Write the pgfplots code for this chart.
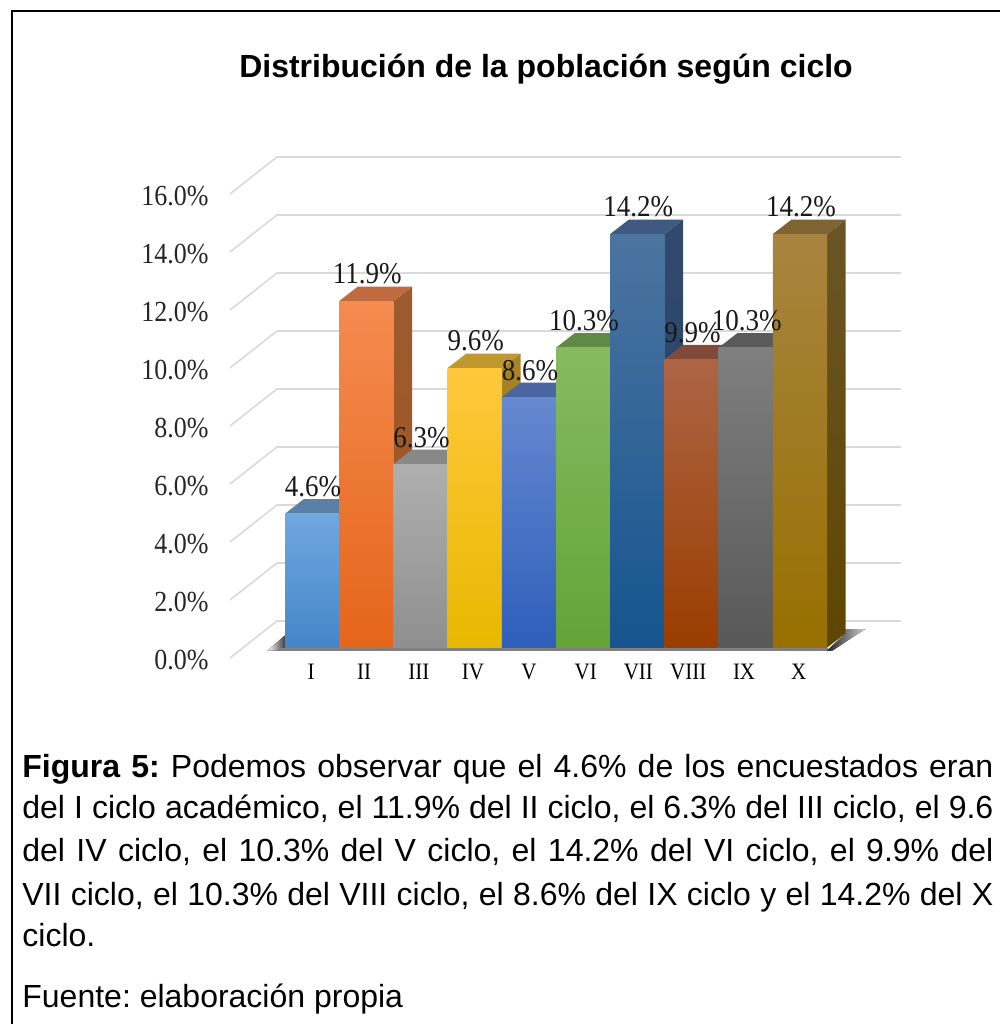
\documentclass[border=0pt]{standalone}
\usepackage{graphicx}
\usepackage{pgfplots}
\pgfplotsset{compat=1.18}
\usepackage{fontspec}
\setmainfont{Liberation Sans}
\newfontfamily\timesf{Liberation Serif}
\newcommand{\tall}[1]{\scalebox{1}[1.12]{#1}}
% 1 px of the reference = 0.5pt
\newcommand{\barcolors}[6]{%
  \definecolor{sideT#1}{HTML}{#2}\definecolor{sideB#1}{HTML}{#3}%
  \definecolor{topF#1}{HTML}{#4}\definecolor{frontT#1}{HTML}{#5}\definecolor{frontB#1}{HTML}{#6}}
\barcolors{0}{3F6E9F}{3F6E9F}{5A80A8}{70A8E0}{4485C9}
\barcolors{1}{9E5A30}{A05520}{C06A40}{F58B50}{E5651A}
\barcolors{2}{707070}{606060}{888888}{AFAFAF}{8F8F8F}
\barcolors{3}{A88428}{947000}{BF9830}{FFC83C}{E8B800}
\barcolors{4}{3F5C95}{2A4A80}{4A65A0}{6688D0}{2E5FBB}
\barcolors{5}{557E3A}{4A7028}{5F8A45}{85BB60}{64A338}
\barcolors{6}{32496C}{1F4468}{3E5A80}{4C74A0}{15558F}
\barcolors{7}{6E3F28}{5E3010}{80493A}{AD6545}{9A3D00}
\barcolors{8}{505050}{404040}{5A5A5A}{7F7F7F}{585858}
\barcolors{9}{6B5528}{5E4600}{7E6432}{A88440}{977000}
\newcommand{\threeDbar}[2]{%
  % #1 left edge, #2 value
  \pgfmathsetmacro{\xa}{#1}
  \pgfmathsetmacro{\xb}{#1+1}
  \pgfmathsetmacro{\xc}{#1+0.345}
  \pgfmathsetmacro{\xd}{#1+1.345}
  \pgfmathsetmacro{\xm}{#1+0.5}
  \pgfmathsetmacro{\yt}{#2+0.498}
  \addplot[draw=none,top color=sideT#1,bottom color=sideB#1] coordinates {(\xb,0) (\xd,0.498) (\xd,\yt) (\xb,#2)} --cycle;
  \addplot[draw=none,fill=topF#1] coordinates {(\xa,#2) (\xb,#2) (\xd,\yt) (\xc,\yt)} --cycle;
  \addplot[ybar,bar width=1,bar shift=0pt,draw=none,top color=frontT#1,bottom color=frontB#1] coordinates {(\xm,#2)};
}
\begin{document}
\begin{tikzpicture}[x=1pt,y=1pt]
\path[use as bounding box] (0,0) rectangle (500,512);
% frame
\draw[black,line width=0.75pt] (6,0) -- (6,506.5) -- (500,506.5);
% title
\node[anchor=base,font=\fontsize{16}{20}\selectfont\bfseries\frenchspacing] at (273,473) {Distribución de la población según ciclo};
% wall: 0 % at front y px 658
\begin{axis}[
  at={(115pt,183pt)},anchor=south west,
  scale only axis,width=335.5pt,height=250.5pt,
  xmin=230,xmax=901,ymin=0,ymax=17.276,
  clip=false,
  axis line style={draw=none},
  xtick=\empty,
  ytick={0,2,4,6,8,10,12,14,16},
  yticklabels={\tall{0.0\%},\tall{2.0\%},\tall{4.0\%},\tall{6.0\%},\tall{8.0\%},\tall{10.0\%},\tall{12.0\%},\tall{14.0\%},\tall{16.0\%}},
  major tick length=0pt,
  yticklabel style={anchor=east,inner sep=0pt,xshift=-10.5pt,yshift=-0.8pt,font=\timesf\fontsize{13}{15}\selectfont,text=black!85},
]
\addplot[draw=black!15,line width=0.8pt] coordinates {(230,0) (277,1.276) (901,1.276)};
\addplot[draw=black!15,line width=0.8pt] coordinates {(230,2) (277,3.276) (901,3.276)};
\addplot[draw=black!15,line width=0.8pt] coordinates {(230,4) (277,5.276) (901,5.276)};
\addplot[draw=black!15,line width=0.8pt] coordinates {(230,6) (277,7.276) (901,7.276)};
\addplot[draw=black!15,line width=0.8pt] coordinates {(230,8) (277,9.276) (901,9.276)};
\addplot[draw=black!15,line width=0.8pt] coordinates {(230,10) (277,11.276) (901,11.276)};
\addplot[draw=black!15,line width=0.8pt] coordinates {(230,12) (277,13.276) (901,13.276)};
\addplot[draw=black!15,line width=0.8pt] coordinates {(230,14) (277,15.276) (901,15.276)};
\addplot[draw=black!15,line width=0.8pt] coordinates {(230,16) (277,17.276) (901,17.276)};
\end{axis}
% bars: 0 % at y px 647.7, 29.13 px per %
\begin{axis}[
  at={(142.5pt,188.15pt)},anchor=south west,
  scale only axis,width=271pt,height=233.04pt,
  xmin=0,xmax=10,ymin=0,ymax=16,
  clip=false,
  axis line style={draw=none},
  ytick=\empty,
  xtick={0.48,1.46,2.47,3.47,4.50,5.55,6.52,7.44,8.47,9.48},
  xticklabels={\tall{I},\tall{II},\tall{III},\tall{IV},\tall{V},\tall{VI},\tall{VII},\tall{VIII},\tall{IX},\tall{X}},
  major tick length=0pt,
  xticklabel style={anchor=center,yshift=-12pt,font=\timesf\fontsize{10.5}{12}\selectfont,text=black},
]
% floor shadow
\fill[left color=white,right color=black!75] (axis cs:-0.33,-0.1) -- (axis cs:0,0.42) -- (axis cs:0,-0.1) -- cycle;
\fill[black!50] (axis cs:-0.1,0) rectangle (axis cs:10.02,-0.12);
\fill[left color=black!85,right color=black!20] (axis cs:10,-0.1) -- (axis cs:10.345,0.5) -- (axis cs:10.345,0.64) -- (axis cs:10.7,0.64) -- (axis cs:10.1,-0.1) -- cycle;
\threeDbar{0}{4.6}
\threeDbar{1}{11.9}
\threeDbar{2}{6.3}
\threeDbar{3}{9.6}
\threeDbar{4}{8.6}
\threeDbar{5}{10.3}
\threeDbar{6}{14.2}
\threeDbar{7}{9.9}
\threeDbar{8}{10.3}
\threeDbar{9}{14.2}
% data labels
\addplot[only marks,mark=none,
  point meta=y,
  nodes near coords={\tall{\pgfmathprintnumber[fixed,fixed zerofill,precision=1,assume math mode=true]{\pgfplotspointmeta}\%}},
  every node near coord/.style={anchor=center,inner sep=0pt,yshift=13.5pt,xshift=0.5pt,text=black!90,font=\timesf\fontsize{13.5}{15}\selectfont},
] coordinates {(0.5,4.6) (1.5,11.9) (2.5,6.3) (3.5,9.6) (4.5,8.6) (5.5,10.3) (6.5,14.2) (7.5,9.9) (8.5,10.3) (9.5,14.2)};
\end{axis}
% caption
\def\capline#1{\makebox[485.5pt][s]{#1}}
\begin{scope}[every node/.style={anchor=base west,inner sep=0pt,font=\fontsize{16}{20}\selectfont\frenchspacing}]
\node at (11,123) {\capline{\textbf{Figura 5:} Podemos observar que el 4.6\% de los encuestados eran}};
\node at (11,102.5) {\capline{del I ciclo académico, el 11.9\% del II ciclo, el 6.3\% del III ciclo, el 9.6}};
\node at (11,81) {\capline{del IV ciclo, el 10.3\% del V ciclo, el 14.2\% del VI ciclo, el 9.9\% del}};
\node at (11,59.5) {\capline{VII ciclo, el 10.3\% del VIII ciclo, el 8.6\% del IX ciclo y el 14.2\% del X}};
\node at (11,38.5) {ciclo.};
\node at (11,8.5) {Fuente: elaboración propia};
\end{scope}
\end{tikzpicture}
\end{document}
